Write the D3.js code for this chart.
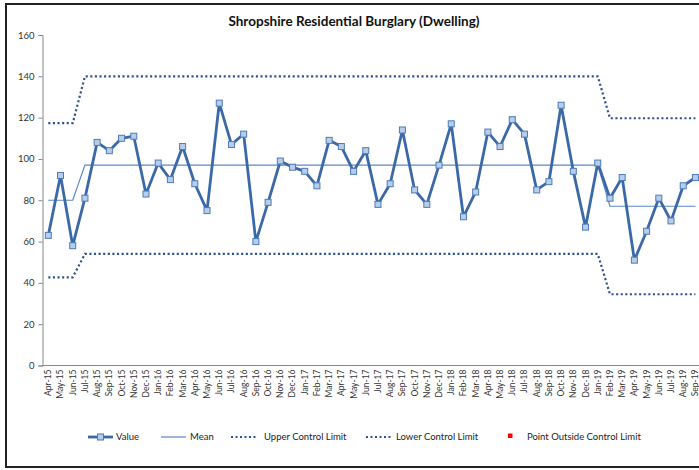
<!DOCTYPE html>
<html><head><meta charset="utf-8">
<script src="https://cdn.jsdelivr.net/npm/d3@7"></script>
<style>body{margin:0;background:#fff}svg{display:block}text{font-family:Lato,"Open Sans",sans-serif}</style>
</head><body><svg id="c" width="699" height="470"></svg>
<script>
const months = ["Apr-15","May-15","Jun-15","Jul-15","Aug-15","Sep-15","Oct-15","Nov-15","Dec-15","Jan-16","Feb-16","Mar-16","Apr-16","May-16","Jun-16","Jul-16","Aug-16","Sep-16","Oct-16","Nov-16","Dec-16","Jan-17","Feb-17","Mar-17","Apr-17","May-17","Jun-17","Jul-17","Aug-17","Sep-17","Oct-17","Nov-17","Dec-17","Jan-18","Feb-18","Mar-18","Apr-18","May-18","Jun-18","Jul-18","Aug-18","Sep-18","Oct-18","Nov-18","Dec-18","Jan-19","Feb-19","Mar-19","Apr-19","May-19","Jun-19","Jul-19","Aug-19","Sep-19"];
const values = [63,92,58,81,108,104,110,111,83,98,90,106,88,75,127,107,112,60,79,99,96,94,87,109,106,94,104,78,88,114,85,78,97,117,72,84,113,106,119,112,85,89,126,94,67,98,81,91,51,65,81,70,87,91];
// control periods: [start index, end index, mean, ucl, lcl]
const periodStart = [0,3,46];
const periodEnd = [2,45,53];
const periodMean = [80,97,77.1];
const periodUCL = [117.3,140,119.7];
const periodLCL = [42.7,54,34.5];
const yTicks = [0,20,40,60,80,100,120,140,160];

function seriesFrom(arr){
  const out = [];
  for(let p=0;p<periodStart.length;p++){
    for(let i=periodStart[p];i<=periodEnd[p];i++) out.push(arr[p]);
  }
  return out;
}
const meanS = seriesFrom(periodMean), uclS = seriesFrom(periodUCL), lclS = seriesFrom(periodLCL);

const svg = d3.select("#c");
const x = d3.scaleBand().domain(months).range([42.2, 42.2 + 54*12.21]).paddingInner(0).paddingOuter(0);
const cx = m => x(m) + x.bandwidth()/2;
const y = d3.scaleLinear().domain([0,160]).range([365.5,35]);

// frame
svg.append("rect").attr("x",6).attr("y",4).attr("width",720).attr("height",463)
  .attr("fill","none").attr("stroke","#222").attr("stroke-width",2);

// title
svg.append("text").attr("x",354).attr("y",26).attr("text-anchor","middle")
  .attr("font-size",13.5).attr("font-weight","bold").attr("fill","#111")
  .text("Shropshire Residential Burglary (Dwelling)");

// y axis
const ya = svg.append("g").attr("transform","translate(42.5,0)")
  .call(d3.axisLeft(y).tickValues(yTicks).tickSize(4).tickPadding(4));
ya.select(".domain").attr("stroke","#868686");
ya.selectAll(".tick line").attr("stroke","#868686");
ya.selectAll(".tick text").attr("font-size",9.5).attr("fill","#333").attr("font-family","Lato");

// x axis
const xa = svg.append("g").attr("transform","translate(0,365.5)")
  .call(d3.axisBottom(x).tickSize(0).tickSizeOuter(0));
xa.select(".domain").attr("stroke","#868686").attr("d","M42.5,0H710");
xa.selectAll(".tick text").attr("font-size",8.5).attr("fill","#333").attr("font-family","Lato")
  .attr("text-anchor","end").attr("transform","rotate(-90)").attr("x",-4).attr("y",0).attr("dy","0.35em");

const line = d3.line().x((d,i)=>cx(months[i])).y(d=>y(d));
const dotCol = "#2E5190";
svg.append("path").datum(uclS).attr("d",line).attr("fill","none").attr("stroke",dotCol)
  .attr("stroke-width",2.2).attr("stroke-dasharray","2.1,2.5");
svg.append("path").datum(lclS).attr("d",line).attr("fill","none").attr("stroke",dotCol)
  .attr("stroke-width",2.2).attr("stroke-dasharray","2.1,2.5");
svg.append("path").datum(meanS).attr("d",line).attr("fill","none").attr("stroke","#5B88C6")
  .attr("stroke-width",1.2);

svg.append("path").datum(values).attr("d",line).attr("fill","none").attr("stroke","#3B69A8")
  .attr("stroke-width",2.8).attr("stroke-linejoin","round");
svg.selectAll("rect.pt").data(values).join("rect").attr("class","pt")
  .attr("x",(d,i)=>cx(months[i])-3).attr("y",d=>y(d)-3).attr("width",6).attr("height",6)
  .attr("fill","#B9CDE8").attr("stroke","#4A7BBA").attr("stroke-width",1);

// legend
const lg = svg.append("g").attr("font-size",9.5).attr("fill","#222");
const ly = 437;
lg.append("line").attr("x1",88).attr("x2",113).attr("y1",ly).attr("y2",ly).attr("stroke","#3B69A8").attr("stroke-width",2.8);
lg.append("rect").attr("x",97.5).attr("y",ly-3).attr("width",6).attr("height",6).attr("fill","#B9CDE8").attr("stroke","#4A7BBA");
lg.append("text").attr("x",116).attr("y",ly).attr("dy","0.35em").text("Value");
lg.append("line").attr("x1",161).attr("x2",186).attr("y1",ly).attr("y2",ly).attr("stroke","#5B88C6").attr("stroke-width",1.2);
lg.append("text").attr("x",190).attr("y",ly).attr("dy","0.35em").text("Mean");
lg.append("line").attr("x1",231).attr("x2",257).attr("y1",ly).attr("y2",ly).attr("stroke",dotCol).attr("stroke-width",2).attr("stroke-dasharray","2,2.5");
lg.append("text").attr("x",264).attr("y",ly).attr("dy","0.35em").text("Upper Control Limit");
lg.append("line").attr("x1",366).attr("x2",392).attr("y1",ly).attr("y2",ly).attr("stroke",dotCol).attr("stroke-width",2).attr("stroke-dasharray","2,2.5");
lg.append("text").attr("x",396).attr("y",ly).attr("dy","0.35em").text("Lower Control Limit");
lg.append("rect").attr("x",508).attr("y",ly-3.5).attr("width",4.5).attr("height",4.5).attr("fill","#FF0000");
lg.append("text").attr("x",527).attr("y",ly).attr("dy","0.35em").text("Point Outside Control Limit");
</script></body></html>
